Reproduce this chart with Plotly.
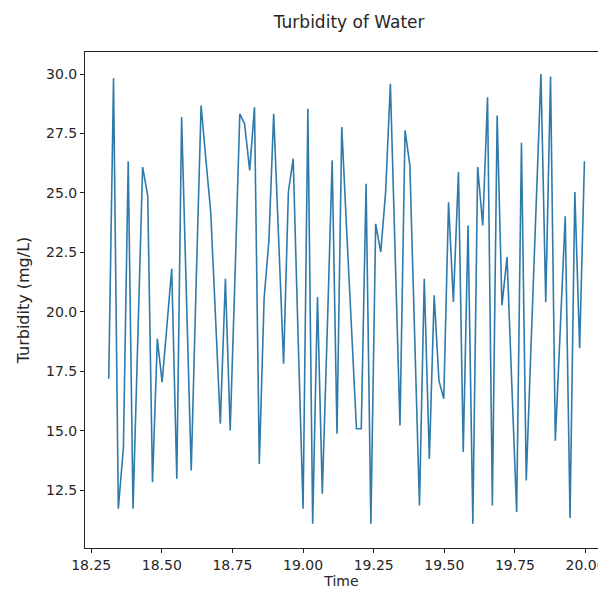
import plotly.graph_objects as go

# Time (hours) for each sample
time_hours = [
    18.312, 18.329, 18.346, 18.364, 18.381, 18.398, 18.415, 18.432, 18.450, 18.467,
    18.484, 18.501, 18.518, 18.535, 18.553, 18.570, 18.587, 18.604, 18.621, 18.639,
    18.656, 18.673, 18.690, 18.707, 18.725, 18.742, 18.759, 18.776, 18.793, 18.811,
    18.828, 18.845, 18.862, 18.879, 18.896, 18.914, 18.931, 18.948, 18.965, 18.982,
    19.000, 19.017, 19.034, 19.051, 19.068, 19.086, 19.103, 19.120, 19.137, 19.154,
    19.172, 19.189, 19.206, 19.223, 19.240, 19.257, 19.275, 19.292, 19.309, 19.326,
    19.343, 19.361, 19.378, 19.395, 19.412, 19.429, 19.447, 19.464, 19.481, 19.498,
    19.515, 19.532, 19.550, 19.567, 19.584, 19.601, 19.618, 19.636, 19.653, 19.670,
    19.687, 19.704, 19.722, 19.739, 19.756, 19.773, 19.790, 19.807, 19.825, 19.842,
    19.859, 19.876, 19.893, 19.911, 19.928, 19.945, 19.962, 19.979, 19.996,
]

# Turbidity readings (mg/L)
turbidity = [
    17.18, 29.83, 11.71, 14.3, 26.33, 11.71, 18.9, 26.09, 24.9, 12.83,
    18.86, 17.04, 19.4, 21.81, 12.97, 28.19, 20.7, 13.32, 21.0, 28.68,
    26.4, 24.2, 19.8, 15.29, 21.39, 15.01, 21.5, 28.33, 27.9, 25.95,
    28.61, 13.6, 20.55, 23.0, 28.33, 23.0, 17.81, 25.04, 26.44, 19.1,
    11.71, 28.54, 11.08, 20.62, 12.34, 19.4, 26.37, 14.87, 27.77, 23.5,
    19.3, 15.08, 15.08, 25.39, 11.08, 23.7, 22.51, 25.0, 29.59, 22.4,
    15.22, 27.63, 26.16, 19.0, 11.85, 21.39, 13.81, 20.69, 17.1, 16.34,
    24.61, 20.41, 25.88, 14.1, 23.63, 11.08, 26.09, 23.63, 29.03, 11.85,
    28.26, 20.27, 22.3, 16.9, 11.57, 27.11, 12.9, 18.6, 24.3, 30.0,
    20.4, 29.9, 14.57, 19.3, 24.02, 11.32, 25.04, 18.47, 26.33,
]

x_ticks = [18.25, 18.50, 18.75, 19.00, 19.25, 19.50, 19.75, 20.00]
x_tick_labels = ["18.25", "18.50", "18.75", "19.00", "19.25", "19.50", "19.75", "20.00"]
y_ticks = [12.5, 15.0, 17.5, 20.0, 22.5, 25.0, 27.5, 30.0]
y_tick_labels = ["12.5", "15.0", "17.5", "20.0", "22.5", "25.0", "27.5", "30.0"]

FONT = "DejaVu Sans"
TXT = "#262626"

fig = go.Figure()
fig.add_trace(go.Scatter(
    x=time_hours, y=turbidity, mode="lines",
    line=dict(color="#2f7aab", width=1.6),
    showlegend=False,
))

axis_common = dict(
    showline=True, linecolor="#222222", linewidth=1, mirror=True,
    ticks="outside", ticklen=4, tickwidth=1, tickcolor="#222222",
    showgrid=False, zeroline=False,
    tickfont=dict(family=FONT, size=14, color=TXT),
)

fig.update_layout(
    width=606, height=592,
    margin=dict(l=77, r=9, t=44, b=52),
    paper_bgcolor="white", plot_bgcolor="white",
    title=dict(text="Turbidity of Water", x=0.563, xanchor="center",
               y=0.977, yanchor="middle", yref="container",
               font=dict(family=FONT, size=17, color=TXT)),
    xaxis=dict(range=[18.228, 20.044], tickvals=x_ticks, ticktext=x_tick_labels,
               title=dict(text="Time", font=dict(family=FONT, size=14, color=TXT), standoff=4),
               **axis_common),
    yaxis=dict(range=[10.06, 30.93], tickvals=y_ticks, ticktext=y_tick_labels,
               title=dict(text="Turbidity (mg/L)", font=dict(family=FONT, size=16, color=TXT), standoff=12),
               **axis_common),
)

fig.write_html("out.html")
